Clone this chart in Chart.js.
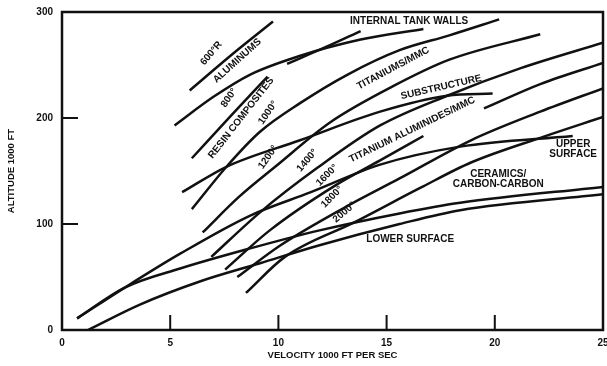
<!DOCTYPE html>
<html><head><meta charset="utf-8">
<script src="https://cdn.jsdelivr.net/npm/chart.js@4.4.0/dist/chart.umd.min.js"></script>
<style>html,body{margin:0;padding:0;background:#fff}</style>
</head><body>
<canvas id="c" width="607" height="366"></canvas>
<script>
// ---- data (velocity 1000 ft/s, altitude 1000 ft) ----
const xTicks = [0, 5, 10, 15, 20, 25];
const yTicks = [0, 100, 200, 300];

const iso600R      = [[5.9,226],[7.8,259],[9.75,291]];
const aluminumLow  = [[5.2,193],[7.0,220],[8.7,241],[10.9,258],[13.8,274],[16.7,284]];
const tankWallsUp  = [[10.4,251],[12.2,267],[13.8,282]];
const iso800       = [[6.0,162],[7.8,202],[9.5,239]];
const iso1000      = [[6.0,114],[7.6,154],[9.15,187],[11.0,214],[13.2,241],[15.6,264],[17.9,278],[20.2,293]];
const iso1200      = [[6.5,92],[8.2,126],[9.85,154],[12.4,196],[15.3,230],[17.9,255],[22.1,279]];
const substructure = [[5.55,130],[7.6,154],[11.0,179],[14.7,206],[17.8,221],[19.9,223]];
const iso1400      = [[6.9,69],[9.15,111],[11.8,153],[14.7,193],[17.8,221],[21.2,247],[25,271]];
const iso1600a     = [[7.54,57],[9.6,94],[12.6,136],[14.7,160],[16.7,183]];
const iso1600b     = [[19.5,209],[22.1,232],[25,252]];
const iso1800      = [[8.1,50],[10.1,80],[13.1,116],[15.6,143],[18.9,179],[22.1,206],[25,228]];
const iso2000      = [[8.5,35],[10.3,69],[13.55,102],[16.55,134],[18.9,158],[22.2,182],[25,201]];
const upperSurface = [[0.7,11],[2.9,40],[5.46,72],[8.7,108],[11.5,130],[14.7,156],[18.4,173],[23.6,183]];
const lowerSurfA   = [[0.7,11],[2.9,40],[5.46,58],[8.7,77],[11.9,94],[15.6,110],[18.4,120],[25,135]];
const lowerSurfB   = [[1.2,0],[3.6,24],[6.4,46],[9.15,63],[11.9,80],[15.6,100],[18.4,113],[25,128]];

const curves = [iso600R, aluminumLow, tankWallsUp, iso800, iso1000, iso1200, substructure,
  iso1400, iso1600a, iso1600b, iso1800, iso2000, upperSurface, lowerSurfA, lowerSurfB];

const annotations = [
  {t:"600°R", v:6.9, a:261, r:-50},
  {t:"ALUMINUMS", v:8.1, a:254, r:-42},
  {t:"800°", v:7.72, a:219, r:-55},
  {t:"RESIN COMPOSITES", v:8.28, a:200, r:-52},
  {t:"1000°", v:9.52, a:205, r:-55},
  {t:"1200°", v:9.52, a:163, r:-55},
  {t:"1400°", v:11.33, a:160, r:-50},
  {t:"1600°", v:12.25, a:146, r:-45},
  {t:"1800°", v:12.48, a:125.5, r:-45},
  {t:"2000°", v:13.04, a:111, r:-40},
  {t:"INTERNAL TANK WALLS", v:16.04, a:291.5, r:0},
  {t:"TITANIUMS/MMC", v:15.3, a:247, r:-28},
  {t:"SUBSTRUCTURE", v:17.52, a:229, r:-13},
  {t:"TITANIUM ALUMINIDES/MMC", v:16.18, a:189, r:-26},
  {t:"UPPER", v:23.62, a:175.5, r:0},
  {t:"SURFACE", v:23.62, a:166, r:0},
  {t:"CERAMICS/", v:20.16, a:147, r:0},
  {t:"CARBON-CARBON", v:20.16, a:137.7, r:0},
  {t:"LOWER SURFACE", v:16.09, a:86, r:0}
];

const FONT = '"Liberation Sans", Arial, sans-serif';
const INK = '#111';

const deco = {
  id: 'deco',
  afterDatasetsDraw(chart) {
    const {ctx, chartArea: a, scales: {x, y}} = chart;
    ctx.save();
    ctx.strokeStyle = INK;
    ctx.lineWidth = 2.5;
    ctx.strokeRect(a.left, a.top, a.right - a.left, a.bottom - a.top);
    ctx.lineWidth = 2;
    ctx.beginPath();
    yTicks.filter(t => t > 0 && t < 300).forEach(t => {
      const py = y.getPixelForValue(t);
      ctx.moveTo(a.left, py); ctx.lineTo(a.left + 16, py);
    });
    xTicks.filter(t => t > 0 && t < 25).forEach(t => {
      const px = x.getPixelForValue(t);
      ctx.moveTo(px, a.bottom); ctx.lineTo(px, a.bottom - 15);
    });
    ctx.stroke();

    ctx.fillStyle = INK;
    ctx.textAlign = 'center';
    ctx.textBaseline = 'middle';
    ctx.font = 'bold 10px ' + FONT;
    annotations.forEach(l => {
      ctx.save();
      ctx.translate(x.getPixelForValue(l.v), y.getPixelForValue(l.a));
      ctx.rotate(l.r * Math.PI / 180);
      ctx.fillText(l.t, 0, 0);
      ctx.restore();
    });

    // axis titles
    ctx.font = 'bold 9.5px ' + FONT;
    ctx.fillText('VELOCITY 1000 FT PER SEC', (a.left + a.right) / 2, 355);
    ctx.save();
    ctx.translate(11, 171);
    ctx.rotate(-Math.PI / 2);
    ctx.fillText('ALTITUDE 1000 FT', 0, 0);
    ctx.restore();
    ctx.restore();
  }
};

new Chart(document.getElementById('c'), {
  type: 'scatter',
  data: {
    datasets: curves.map(c => ({
      data: c.map(p => ({x: p[0], y: p[1]})),
      showLine: true,
      borderColor: INK,
      borderWidth: 2.5,
      pointRadius: 0,
      cubicInterpolationMode: 'monotone',
      fill: false
    }))
  },
  options: {
    responsive: false,
    animation: false,
    devicePixelRatio: 1,
    layout: {padding: {left: 0, right: 4, top: 12, bottom: 0}},
    plugins: {legend: {display: false}, tooltip: {enabled: false}},
    scales: {
      x: {
        type: 'linear', min: 0, max: 25,
        afterBuildTicks: s => { s.ticks = xTicks.map(v => ({value: v})); },
        afterFit: s => { s.height = 36; s.paddingLeft = 0; s.paddingRight = 0; },
        grid: {display: false, drawTicks: false},
        border: {display: false},
        ticks: {color: INK, padding: 7, font: {family: FONT, size: 10, weight: 'bold'}, maxRotation: 0, autoSkip: false}
      },
      y: {
        type: 'linear', min: 0, max: 300,
        afterBuildTicks: s => { s.ticks = yTicks.map(v => ({value: v})); },
        afterFit: s => { s.width = 62; s.paddingTop = 0; s.paddingBottom = 0; },
        grid: {display: false, drawTicks: false},
        border: {display: false},
        ticks: {color: INK, padding: 9, font: {family: FONT, size: 10, weight: 'bold'}, autoSkip: false}
      }
    }
  },
  plugins: [deco]
});
</script>
</body></html>
